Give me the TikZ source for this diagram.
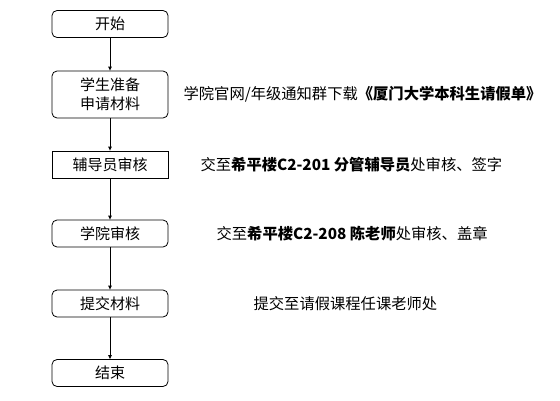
\documentclass[tikz,border=0pt]{standalone}
\usepackage{fontspec}
\setmainfont{Noto Sans CJK SC}
\usetikzlibrary{arrows.meta, positioning}
\definecolor{ink}{HTML}{000000}

\begin{document}
\begin{tikzpicture}[
      x=1pt, y=1pt,
      stepbox/.style={draw=ink, fill=white, rounded corners=5pt, align=center,
                  inner sep=2pt, font=\fontsize{15}{19}\selectfont,
                  minimum width=116pt, minimum height=27pt, line width=0.8pt},
      plainbox/.style={stepbox, rounded corners=0pt},
      note/.style={anchor=west, inner sep=0pt, font=\fontsize{15.3}{19}\selectfont},
      arr/.style={-{Triangle[length=4pt, width=3.5pt]}, draw=ink, line width=0.8pt}]
    \useasboundingbox (0,0) rectangle (560,-400);
    \node[stepbox] (start) at (110,-24) {开始};
    \node[stepbox, minimum height=47pt] (prep) at (110,-94.5) {学生准备\\申请材料};
    \node[plainbox] (tutor) at (110,-164.5) {辅导员审核};
    \node[stepbox] (school) at (110,-233.5) {学院审核};
    \node[stepbox] (submit) at (110,-303.5) {提交材料};
    \node[stepbox] (finish) at (110,-373) {结束};

    \node[note] (n1) at ([xshift=15pt]prep.east) {学院官网/年级通知群下载\textbf{《厦门大学本科生请假单》}};
    \node[note] (n2) at ([xshift=32pt]tutor.east) {交至\textbf{希平楼C2-201 分管辅导员}处审核、签字};
    \node[note] (n3) at ([xshift=48pt]school.east) {交至\textbf{希平楼C2-208 陈老师}处审核、盖章};
    \node[note] (n4) at ([xshift=85pt]submit.east) {提交至请假课程任课老师处};

    \draw[arr] (start) -- (prep);
    \draw[arr] (prep) -- (tutor);
    \draw[arr] (tutor) -- (school);
    \draw[arr] (school) -- (submit);
    \draw[arr] (submit) -- (finish);
  \end{tikzpicture}
\end{document}
